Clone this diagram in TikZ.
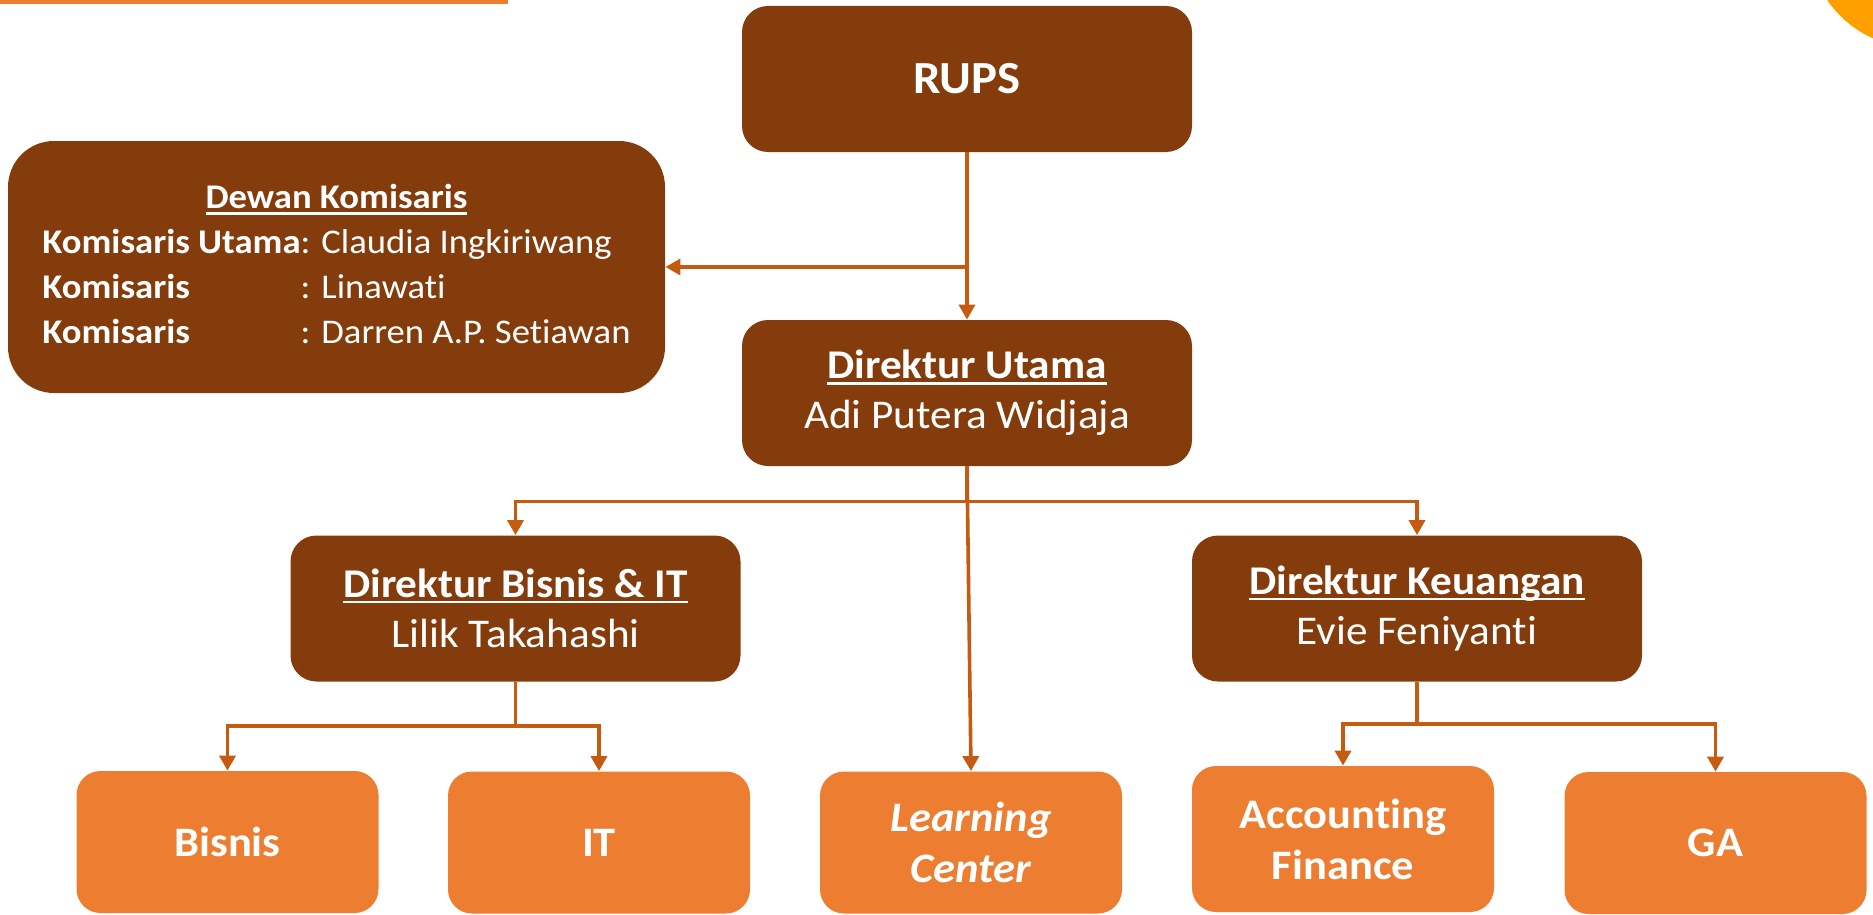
\documentclass[tikz,border=0pt]{standalone}
\usepackage{fontspec}
\setmainfont{Carlito}[FakeStretch=1.06,Ligatures=NoCommon]
\usepackage{xcolor}
\usepackage{tikz}
\usetikzlibrary{positioning,arrows.meta}

\definecolor{kotakcoklat}{HTML}{843C0C}
\definecolor{kotakoranye}{HTML}{ED7D31}
\definecolor{garis}{HTML}{C55A11}
\definecolor{sudut}{HTML}{FFA000}

\newcommand{\undl}[1]{\setbox0\hbox{#1}\rlap{\vrule height -1.7pt depth 2.9pt width \wd0}\box0}

\begin{document}
\begin{tikzpicture}[x=0.5pt,y=-0.5pt,
  pimpinan/.style={rectangle, rounded corners=13pt, fill=kotakcoklat, text=white,
    inner sep=0pt, minimum width=225pt, minimum height=73pt, align=center,
    font=\fontsize{20.4}{25}\selectfont},
  unit/.style={rectangle, rounded corners=12pt, fill=kotakoranye, text=white,
    inner sep=0pt, minimum width=151pt, minimum height=71pt, align=center,
    font=\fontsize{21}{25.5}\selectfont\bfseries},
  panah/.style={draw=garis, line width=1.8pt, -{Triangle[width=8pt,length=7.5pt]}}]
  \useasboundingbox (0,0) rectangle (1873,915);
  \fill[kotakoranye] (0,0) rectangle (508,4);
  \fill[sudut] (1918,-62) circle (110);

  \node[pimpinan, font=\fontsize{23}{28}\selectfont\bfseries] (rups) at (967,79) {RUPS};
  \node[pimpinan, rounded corners=23pt, minimum width=328.5pt, minimum height=126pt,
    font=\fontsize{17.3}{22.4}\selectfont] (dewan) at (336.5,267)
    {\begin{tabular}{@{}l@{}l@{}}
      \multicolumn{2}{@{}c@{}}{\undl{\textbf{Dewan Komisaris}}}\\
      \textbf{Komisaris Utama}&: Claudia Ingkiriwang\\
      \textbf{Komisaris}&: Linawati\\
      \textbf{Komisaris}&: Darren A.P. Setiawan
    \end{tabular}};
  \node[pimpinan] (dirut) at (967,393) {\undl{\textbf{Direktur Utama}}\\Adi Putera Widjaja};
  \node[pimpinan] (dirbis) at (515.5,608.5) {\undl{\textbf{Direktur Bisnis \& IT}}\\Lilik Takahashi};
  \node[pimpinan] (dirkeu) at (1417,608.5) {\undl{\textbf{Direktur Keuangan}}\\Evie Feniyanti};

  \node[unit] (bisnis) at (227.5,842) {Bisnis};
  \node[unit] (it) at (599,842.5) {IT};
  \node[unit, font=\fontsize{21}{25.5}\selectfont\bfseries\itshape] (lc) at (971,842.5) {Learning\\Center};
  \node[unit, minimum height=73pt] (acc) at (1343,839) {Accounting\\Finance};
  \node[unit] (ga) at (1715.5,843) {GA};

  \draw[panah] (rups.south) -- (dirut.north);
  \draw[panah] (rups.south) |- (dewan.east);
  \draw[panah] (dirut.south) -- ++(0,35) -| (dirbis.north);
  \draw[panah] (dirut.south) -- ++(0,35) -| (dirkeu.north);
  \draw[panah] (dirut.south) -- (lc.north);
  \draw[panah] (dirbis.south) -- ++(0,44) -| (bisnis.north);
  \draw[panah] (dirbis.south) -- ++(0,44) -| (it.north);
  \draw[panah] (dirkeu.south) -- ++(0,42) -| (acc.north);
  \draw[panah] (dirkeu.south) -- ++(0,42) -| (ga.north);
\end{tikzpicture}
\end{document}
